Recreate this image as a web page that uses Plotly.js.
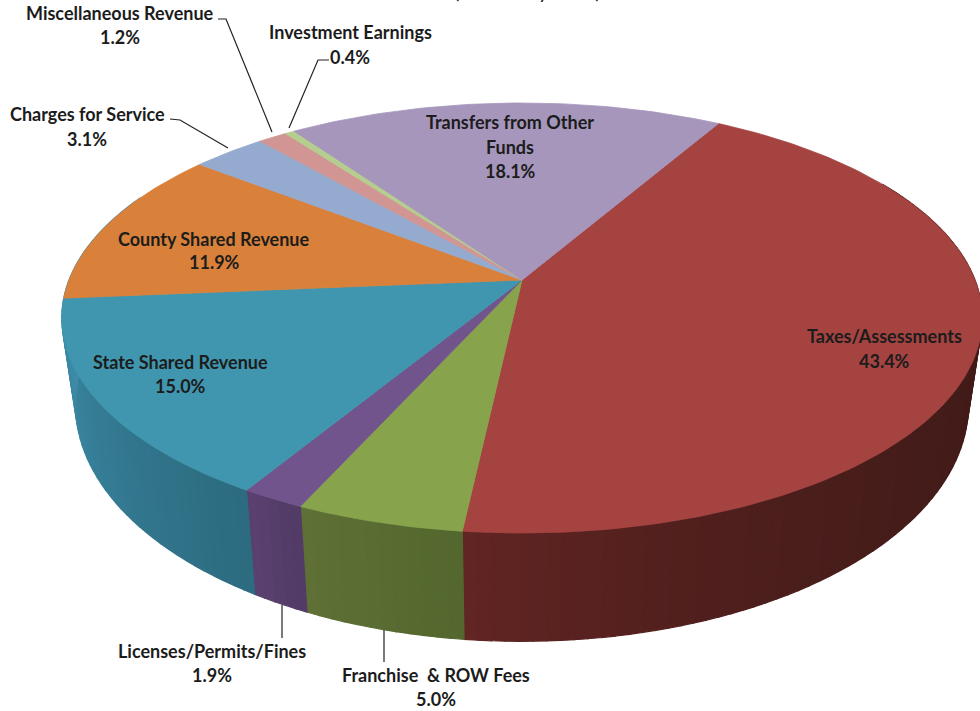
<!DOCTYPE html>
<html><head><meta charset="utf-8">
<script src="https://cdn.plot.ly/plotly-3.0.1.min.js"></script>
<style>html,body{margin:0;padding:0;background:#fff;overflow:hidden}#c{width:980px;height:711px}</style>
</head><body><div id="c"></div>
<script>
// ---- data ----
const categories = ['Taxes/Assessments','Franchise & ROW Fees','Licenses/Permits/Fines','State Shared Revenue','County Shared Revenue','Charges for Service','Miscellaneous Revenue','Investment Earnings','Transfers from Other Funds'];
const shares = [43.4,5.0,1.9,15.0,11.9,3.1,1.2,0.4,18.1];
const topColors = ['#a54341','#87a44c','#71548c','#3f96ae','#d9813a','#94aacf','#d19593','#b5cd8e','#a696bb'];
// rim shading at the clockwise start and end of each visible side
const sideStart = ['#411b18','#53672e','#523a66','#2c6b7f'];
const sideEnd   = ['#622523','#5e7035','#5a4170','#3d8ba8'];
const sideCurve = [3.5,1,1,1];

// ---- drawing frame (tilted disc seen in perspective) ----
const startDeg = 30, cx = 522, cy = 280, A = 453, B = 208.3, P = 0.1767;
const bottomCy = 363, bottomSx = 0.97, bottomSy = 1.1;
function topPt(d){const r=d*Math.PI/180,u=Math.sin(r),v=Math.cos(r),w=1+P*v;return [cx+A*u/w,cy-B*v/w];}
function botPt(d){const r=d*Math.PI/180,u=Math.sin(r),v=Math.cos(r),w=1+P*v;return [cx+bottomSx*A*u/w,bottomCy-bottomSy*B*v/w];}
function mix(a,b,t){const p=s=>[1,3,5].map(i=>parseInt(s.substr(i,2),16));const x=p(a),y=p(b);return 'rgb('+x.map((c,i)=>Math.round(c+(y[i]-c)*t)).join(',')+')';}

const traces=[];
function poly(xs,ys,color,lw){traces.push({type:'scatter',mode:'lines',x:xs,y:ys,fill:'toself',fillcolor:color,line:{color:color,width:lw},hoverinfo:'skip',showlegend:false});}

const total = shares.reduce((a,b)=>a+b,0);
let acc = startDeg; const spans=[];
shares.forEach(s=>{const e=acc+s/total*360;spans.push([acc,e]);acc=e;});

// sides: narrow bands, so the shading runs along the rim
sideStart.forEach((_,i)=>{
  const a=Math.max(spans[i][0],60);
  const b=i===3?295:spans[i][1];          // last visible side runs on behind the top face
  const visEnd=spans[i][1];
  const n=Math.max(2,Math.ceil((b-a)/1.5));
  for(let k=0;k<n;k++){
    const d0=a+(b-a)*k/n,d1=a+(b-a)*(k+1)/n;
    const xs=[],ys=[];
    for(let j=0;j<=2;j++){const p=topPt(d0+(d1-d0)*j/2);xs.push(p[0]);ys.push(p[1]);}
    for(let j=2;j>=0;j--){const p=botPt(d0+(d1-d0)*j/2);xs.push(p[0]);ys.push(p[1]);}
    xs.push(xs[0]);ys.push(ys[0]);
    const t=Math.min(1,((d0+d1)/2-a)/(visEnd-a));
    poly(xs,ys,mix(sideStart[i],sideEnd[i],Math.pow(t,sideCurve[i])),1.2);
  }
});
// top faces
spans.forEach((sp,i)=>{
  const xs=[cx],ys=[cy];
  const n=Math.max(4,Math.ceil((sp[1]-sp[0])));
  for(let j=0;j<=n;j++){const p=topPt(sp[0]+(sp[1]-sp[0])*j/n);xs.push(p[0]);ys.push(p[1]);}
  xs.push(cx);ys.push(cy);
  poly(xs,ys,topColors[i],0.8);
});

// ---- labels: [text, x, y] per line ----
const pct = i => shares[i].toFixed(1)+'%';
const labelLines = [
 ['Taxes/Assessments',884,336],[pct(0),884,361],
 ['Franchise  & ROW Fees',436,675],[pct(1),436,699],
 ['Licenses/Permits/Fines',212,651],[pct(2),212,675],
 ['State Shared Revenue',180,362],[pct(3),180,386],
 ['County Shared Revenue',214,239],[pct(4),214,262],
 ['Charges for Service',87,114],[pct(5),87,139],
 ['Miscellaneous Revenue',120,13],[pct(6),120,37],
 ['Investment Earnings',350,32],[pct(7),350,57],
 ['Transfers from Other',510,122],['Funds',510,147],[pct(8),510,171]
];
const labelFont = {family:'Lato, Carlito, sans-serif',size:18,color:'#1c1c1c',weight:700};
const annotations = labelLines.map(l=>({xref:'x',yref:'y',x:l[1],y:l[2],text:l[0],showarrow:false,xanchor:'center',yanchor:'middle',font:labelFont}));
annotations.push({xref:'x',yref:'y',x:527,y:0,yshift:7,text:'(Allocation by Source)',showarrow:false,xanchor:'center',yanchor:'middle',font:{family:'Lato, Carlito, sans-serif',size:15,color:'#1c1c1c',weight:700}});

// leader lines
const leaderX=[[218,226,272],[329,318,289],[170,180,228],[282,282],[384,384]];
const leaderY=[[19,19,132],[60,60,128],[119,120,148],[605,638],[630,662]];
leaderX.forEach((x,i)=>traces.push({type:'scatter',mode:'lines',x:x,y:leaderY[i],line:{color:'#222',width:1.2},hoverinfo:'skip',showlegend:false}));

Plotly.newPlot('c',traces,{
  width:980,height:711,margin:{l:0,r:0,t:0,b:0},paper_bgcolor:'#fff',plot_bgcolor:'#fff',showlegend:false,
  xaxis:{range:[0,980],visible:false,fixedrange:true},
  yaxis:{range:[711,0],visible:false,fixedrange:true},
  annotations:annotations
},{displayModeBar:false,staticPlot:true});
</script></body></html>
